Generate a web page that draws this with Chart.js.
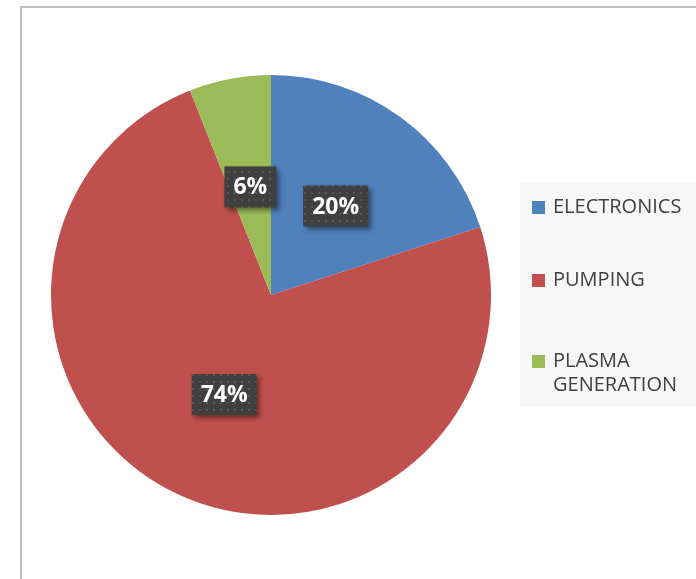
<!DOCTYPE html>
<html>
<head>
<meta charset="utf-8">
<script src="https://cdn.jsdelivr.net/npm/chart.js@4.4.1/dist/chart.umd.min.js"></script>
<style>
  html, body { margin: 0; padding: 0; background: #fff; }
  #wrap { position: relative; width: 696px; height: 579px; }
</style>
</head>
<body>
<div id="wrap"><canvas id="pieChart" width="696" height="579"></canvas></div>
<script>
const categories = ["ELECTRONICS", "PUMPING", ["PLASMA", "GENERATION"]];
const shares = [20, 74, 6];
const sliceColors = ["#4F81BD", "#C0504D", "#9BBB59"];

// dotted dark fill like the Office label style
function makeDotPattern() {
    const c = document.createElement("canvas");
    c.width = 7;
    c.height = 7;
    const p = c.getContext("2d");
    p.fillStyle = "#3f3f3f";
    p.fillRect(0, 0, 7, 7);
    p.fillStyle = "#575757";
    p.fillRect(3, 3, 2, 2);
    return p.createPattern(c, "repeat");
}

const frame = {
    id: "frame",
    beforeDraw(chart) {
        const ctx = chart.ctx;
        ctx.save();
        ctx.fillStyle = "#ffffff";
        ctx.fillRect(0, 0, chart.width, chart.height);
        ctx.fillStyle = "#c0c0c0";
        ctx.fillRect(20, 6, chart.width - 20, 2);
        ctx.fillRect(20, 6, 2, chart.height - 6);
        // legend panel
        ctx.fillStyle = "#f7f7f7";
        ctx.fillRect(520, 183, chart.width - 520, 223);
        ctx.restore();
    }
};

const sideLegend = {
    id: "sideLegend",
    afterDraw(chart) {
        const ctx = chart.ctx;
        const rows = [207, 280, 361];
        const colors = chart.data.datasets[0].backgroundColor;
        ctx.save();
        ctx.font = "20px 'Open Sans'";
        ctx.textBaseline = "middle";
        chart.data.labels.forEach((label, i) => {
            const lines = Array.isArray(label) ? label : [label];
            ctx.fillStyle = colors[i];
            ctx.fillRect(532, rows[i] - 6, 13, 13);
            ctx.fillStyle = "#404040";
            lines.forEach((line, j) => {
                ctx.fillText(line, 553, rows[i] + j * 24);
            });
        });
        ctx.restore();
    }
};

const pctLabels = {
    id: "pctLabels",
    afterDatasetsDraw(chart) {
        const ctx = chart.ctx;
        const pattern = makeDotPattern();
        const values = chart.data.datasets[0].data;
        const total = values.reduce((a, b) => a + b, 0);
        ctx.save();
        ctx.font = "bold 23px 'Open Sans'";
        ctx.textAlign = "center";
        ctx.textBaseline = "middle";
        chart.getDatasetMeta(0).data.forEach((arc, i) => {
            const pos = arc.tooltipPosition();
            const text = Math.round(values[i] / total * 100) + "%";
            const w = ctx.measureText(text).width + 18;
            const h = 41;
            ctx.save();
            ctx.shadowColor = "rgba(0,0,0,0.45)";
            ctx.shadowBlur = 5;
            ctx.shadowOffsetX = 3;
            ctx.shadowOffsetY = 3;
            ctx.fillStyle = pattern;
            ctx.fillRect(pos.x - w / 2, pos.y - h / 2, w, h);
            ctx.restore();
            ctx.fillStyle = "#ffffff";
            ctx.fillText(text, pos.x, pos.y + 1);
        });
        ctx.restore();
    }
};

new Chart(document.getElementById("pieChart"), {
    type: "pie",
    data: {
        labels: categories,
        datasets: [{
            data: shares,
            backgroundColor: sliceColors,
            borderWidth: 0
        }]
    },
    options: {
        responsive: false,
        animation: false,
        layout: {
            padding: { left: 51, top: 75, right: 205, bottom: 64 }
        },
        plugins: {
            legend: { display: false },
            tooltip: { enabled: false }
        }
    },
    plugins: [frame, pctLabels, sideLegend]
});
</script>
</body>
</html>
